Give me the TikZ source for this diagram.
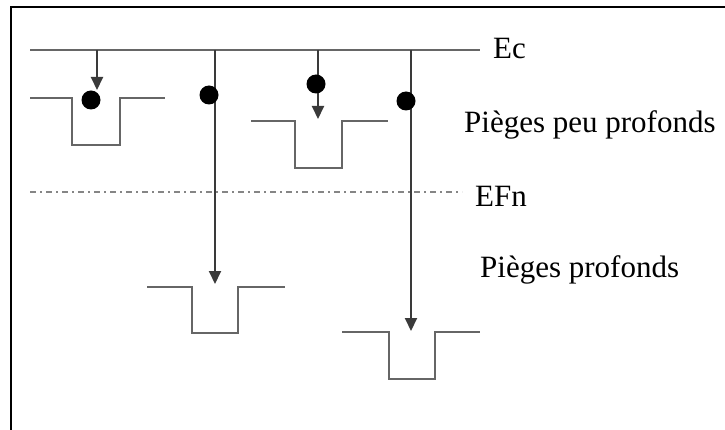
\documentclass[tikz,border=0pt]{standalone}
\usepackage{fontspec}
\setmainfont{Liberation Serif}
\usetikzlibrary{arrows.meta}
\definecolor{lvl}{HTML}{666666}
\definecolor{arr}{HTML}{3A3A3A}
\tikzset{
  level/.style={draw=lvl, line width=2pt},
  trapline/.style={draw=lvl, line width=2pt, line join=miter},
  fermi/.style={draw=lvl!80, line width=1.6pt, dash pattern=on 6pt off 4pt on 2pt off 4pt},
  transition/.style={draw=arr, line width=2pt, -{Triangle[width=12pt,length=13pt]}},
  electron/.style={circle, fill=black, inner sep=0pt, minimum size=19pt},
  lbl/.style={anchor=base west, inner sep=0pt, font=\fontsize{31}{36}\selectfont},
  frame/.style={draw=black, line width=2.4pt}
}
\begin{document}
\begin{tikzpicture}[x=1pt,y=-1pt]
\useasboundingbox (0,0) rectangle (725,430);
\clip (0,0) rectangle (725,430);
\fill[white] (0,0) rectangle (725,430);
\draw[frame] (11,445) -- (11,7) -- (740,7);
% conduction band
\coordinate (ecL) at (30,50);
\coordinate (ecR) at (480,50);
\draw[level] (ecL) -- (ecR);
\node[lbl] (ec) at (493,59) {Ec};
% Fermi level
\coordinate (efL) at (30,192);
\coordinate (efR) at (462,192);
\draw[fermi] (efL) -- (efR);
\node[lbl] (efn) at (475,207) {EFn};
% labels
\node[lbl] (shallow) at (464,133) {Pièges peu profonds};
\node[lbl] (deep) at (480,277) {Pièges profonds};
% trap 1 (shallow)
\draw[trapline] (30,98) -- (72,98) -- (72,145) -- (120,145) -- (120,98) -- (165,98);
% trap 2 (shallow)
\draw[trapline] (251,121) -- (295,121) -- (295,168) -- (342,168) -- (342,121) -- (388,121);
% trap 3 (deep)
\draw[trapline] (147,287) -- (192,287) -- (192,333) -- (238,333) -- (238,287) -- (285,287);
% trap 4 (deep)
\draw[trapline] (342,332) -- (389,332) -- (389,379) -- (435,379) -- (435,332) -- (480,332);
% transitions
\coordinate (a1s) at (97,50);
\coordinate (a1e) at (97,90);
\coordinate (a2s) at (215,50);
\coordinate (a2e) at (215,284);
\coordinate (a3s) at (318,50);
\coordinate (a3e) at (318,119);
\coordinate (a4s) at (411,50);
\coordinate (a4e) at (411,331);
\draw[transition] (a1s) -- (a1e);
\draw[transition] (a2s) -- (a2e);
\draw[transition] (a3s) -- (a3e);
\draw[transition] (a4s) -- (a4e);
% electrons
\node[electron] (e1) at (91,100) {};
\node[electron] (e2) at (209,95) {};
\node[electron] (e3) at (316,84) {};
\node[electron] (e4) at (406,101) {};
\end{tikzpicture}
\end{document}
